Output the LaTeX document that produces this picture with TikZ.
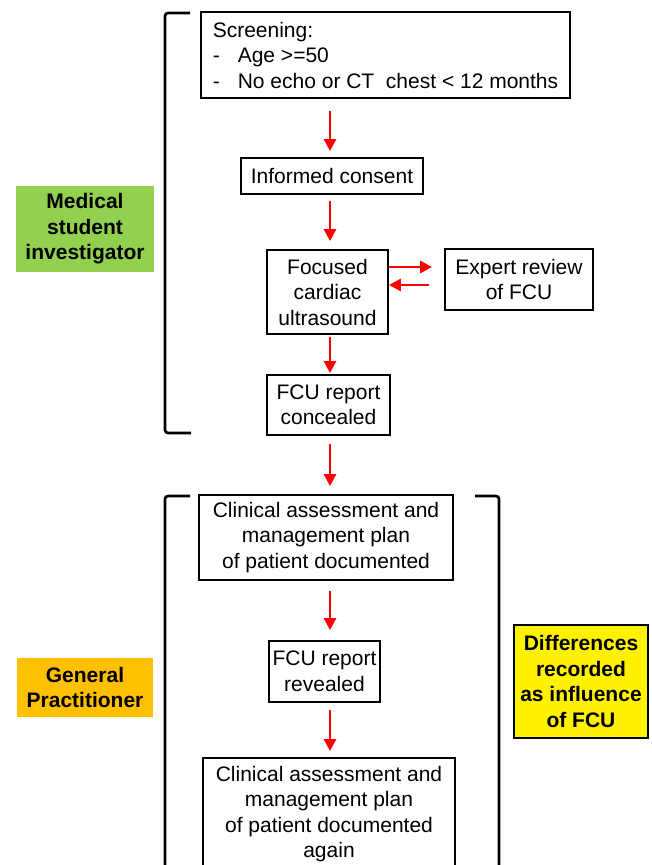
\documentclass[tikz,border=0pt]{standalone}
\usepackage{fontspec}
\setmainfont{Liberation Sans}
\usetikzlibrary{arrows.meta}
\usetikzlibrary{calc}
\definecolor{stugreen}{HTML}{92D050}
\definecolor{gporange}{HTML}{FFC000}

\begin{document}
\begin{tikzpicture}[x=1pt, y=-1pt,
        box/.style={draw=black, line width=1.8pt, align=center, inner sep=0pt, font=\fontsize{21}{25.5}\selectfont},
        tag/.style={align=center, inner sep=0pt, font=\fontsize{21}{25.5}\selectfont\bfseries},
        flow/.style={draw=red, line width=2.8pt, -{Triangle[length=12pt,width=12pt]}},
        brace/.style={black, line width=2.6pt, rounded corners=3pt}]
            \useasboundingbox (0,0) rectangle (652,865);
            \clip (0,0) rectangle (652,865);
            \coordinate (ax) at (330,0);
            \node[box, align=left, minimum width=369pt, minimum height=86pt] (screen) at (385.5,55)
                {Screening:\\\makebox[25pt][l]{-}Age >=50\\\makebox[25pt][l]{-}No echo or CT\ \ chest < 12 months};
            \node[box, minimum width=182pt, minimum height=36pt] (consent) at (332,176) {Informed consent};
            \node[box, minimum width=121pt, minimum height=84pt] (fcu) at (327.5,292) {Focused\\cardiac\\ultrasound};
            \node[box, minimum width=148pt, minimum height=61pt] (expert) at (519,279.5) {Expert review\\of FCU};
            \node[box, minimum width=123pt, minimum height=60pt] (concealed) at (328.5,405) {FCU report\\concealed};
            \node[box, minimum width=254pt, minimum height=85pt] (clinA) at (326,537.5) {Clinical assessment and\\management plan\\of patient documented};
            \node[box, minimum width=111pt, minimum height=61pt] (revealed) at (324.5,671.5) {FCU report\\revealed};
            \node[box, minimum width=252pt, minimum height=112pt] (clinB) at (329,814) {Clinical assessment and\\management plan\\of patient documented\\again};
            \node[tag, fill=stugreen, minimum width=138pt, minimum height=86pt] (student) at (85,229) {Medical\\student\\investigator};
            \node[tag, fill=gporange, minimum width=136pt, minimum height=59pt] (gp) at (85,687.5) {General\\Practitioner};
            \node[tag, fill=yellow, draw=black, line width=2pt, minimum width=134pt, minimum height=113pt] (diff) at (581,681.5) {Differences\\recorded\\as influence\\of FCU};
            \draw[flow, shorten <=12pt, shorten >=6pt] (screen.south -| ax) -- (consent.north -| ax);
            \draw[flow, shorten <=6pt, shorten >=8pt] (consent.south -| ax) -- (fcu.north -| ax);
            \draw[flow, shorten <=2pt, shorten >=1pt] (fcu.south -| ax) -- (concealed.north -| ax);
            \draw[flow, shorten <=8pt, shorten >=8pt] (concealed.south -| ax) -- (clinA.north -| ax);
            \draw[flow, shorten <=10pt, shorten >=10pt] (clinA.south -| ax) -- (revealed.north -| ax);
            \draw[flow, shorten <=7pt, shorten >=6pt] (revealed.south -| ax) -- (clinB.north -| ax);
            \draw[flow, shorten >=12pt] ($(fcu.east |- expert.west)+(0,-12.5)$) -- ($(expert.west)+(0,-12.5)$);
            \draw[flow, shorten <=15pt] ($(expert.west)+(0,5.5)$) -- ($(fcu.east |- expert.west)+(0,5.5)$);
            \draw[brace] (190,13) -- (165,13) -- (165,433) -- (191,433);
            \draw[brace] (190,496) -- (165,496) -- (165,880);
            \draw[brace] (475,496) -- (499,496) -- (499,880);
        \end{tikzpicture}
\end{document}
